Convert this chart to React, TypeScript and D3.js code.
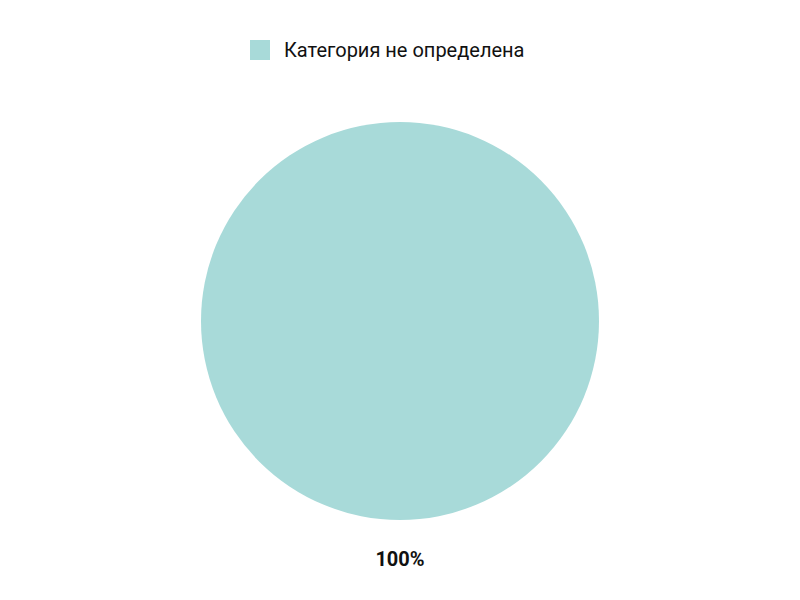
import { useEffect, useRef } from "react";
import * as d3 from "d3";

const categories = ["Категория не определена"];
const values = [100];
const colors = ["#a8dad9"];

export default function App() {
  const svgRef = useRef<SVGSVGElement>(null);

  useEffect(() => {
    const width = 800;
    const height = 600;
    const svg = d3.select(svgRef.current).attr("width", width).attr("height", height);
    svg.selectAll("*").remove();

    const cx = 400;
    const cy = 321;
    const radius = 199;
    const total = d3.sum(values);

    const pie = d3.pie<number>().sort(null)(values);
    const arc = d3.arc<d3.PieArcDatum<number>>().innerRadius(0).outerRadius(radius);

    const g = svg.append("g").attr("transform", `translate(${cx},${cy})`);
    g.selectAll("path")
      .data(pie)
      .join("path")
      .attr("d", arc)
      .attr("fill", (_, i) => colors[i]);

    // percent label below the pie for a single full slice
    g.selectAll("text.pct")
      .data(pie)
      .join("text")
      .attr("class", "pct")
      .attr("x", 0)
      .attr("y", radius + 46)
      .attr("text-anchor", "middle")
      .attr("font-family", "Roboto")
      .attr("font-weight", 700)
      .attr("font-size", 20)
      .attr("fill", "#111")
      .text(d => `${Math.round((d.data / total) * 100)}%`);

    // Legend
    const legend = svg.append("g");
    const item = legend.selectAll("g")
      .data(categories)
      .join("g")
      .attr("transform", "translate(250,40)");
    item.append("rect")
      .attr("width", 20)
      .attr("height", 20)
      .attr("fill", (_, i) => colors[i]);
    item.append("text")
      .attr("x", 34)
      .attr("y", 17)
      .attr("font-family", "Roboto")
      .attr("font-size", 20)
      .attr("fill", "#111")
      .text(d => d);
  }, []);

  return (
    <div style={{ position: "absolute", left: 0, top: 0 }}>
      <svg ref={svgRef} style={{ display: "block" }} />
    </div>
  );
}
